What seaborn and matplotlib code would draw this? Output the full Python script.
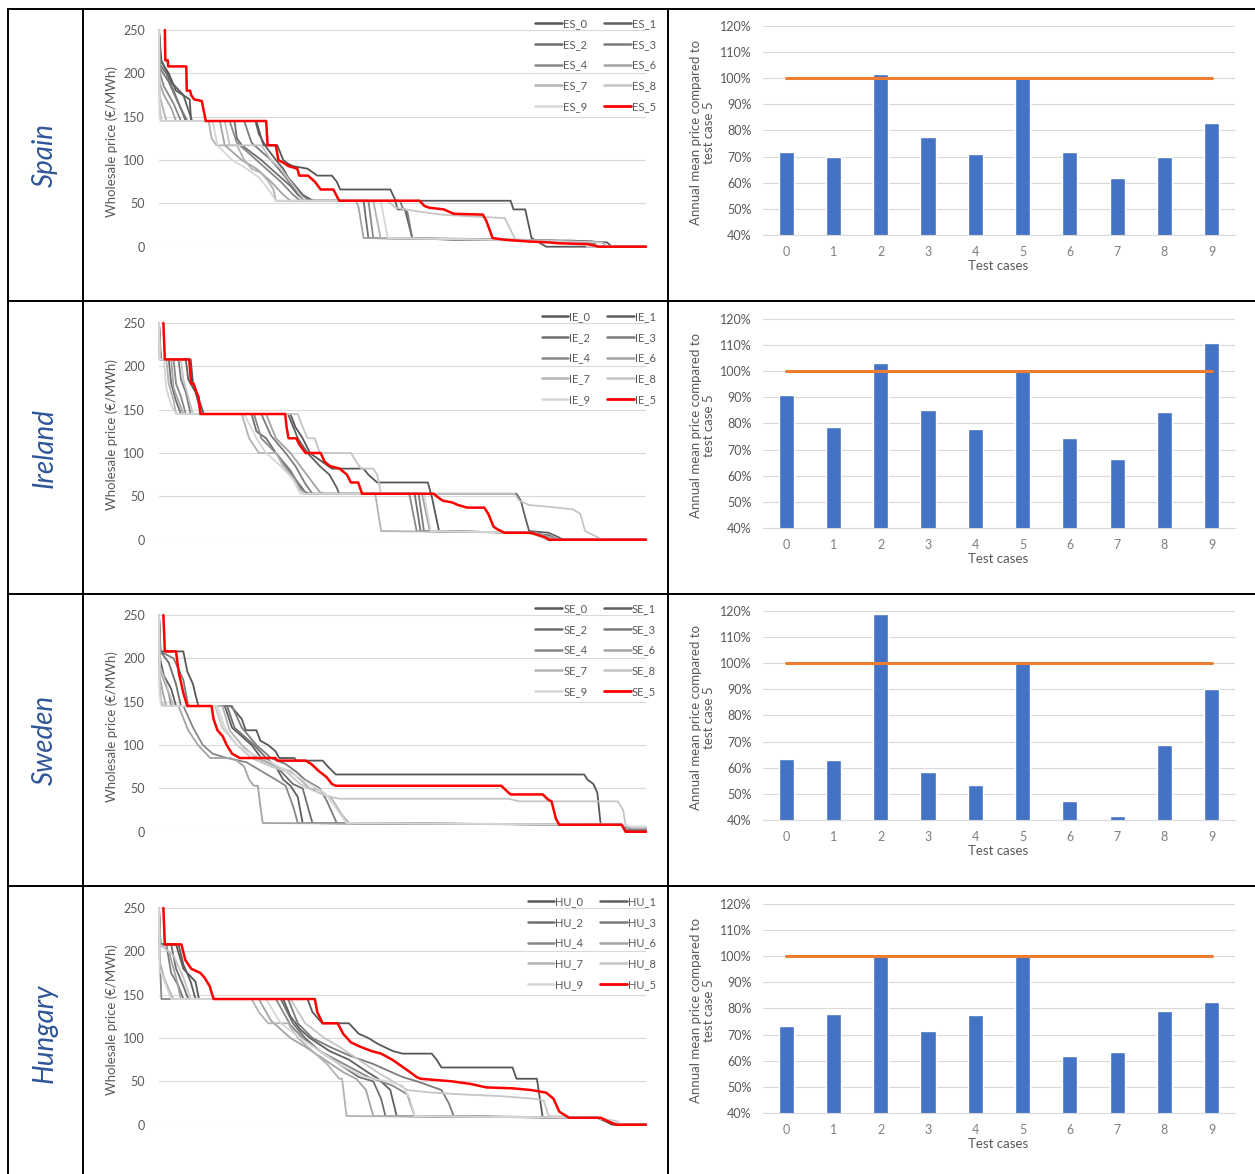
import matplotlib.pyplot as plt
import seaborn as sns
import pandas as pd
import numpy as np
from matplotlib.lines import Line2D
from matplotlib.ticker import FuncFormatter

# ---- price duration curves: (share of year in %, price in EUR/MWh) ----
ES_0 = [(0,250),(0.3,215),(2,200),(3.5,180),(6.3,170),(6.6,145),(20,145),(21,125),(21.5,117),(24.3,117),(25.5,100),(26.7,95),(27.5,93),(30.5,90),(32.5,82),(35.5,82),(36.5,75),(37.2,66),(47.5,66),(48.6,53),(72.2,53),(72.8,43),(75.2,43),(76.5,10),(78,5),(79.5,0),(100,0)]
ES_1 = [(0,250),(0.5,215),(2.5,190),(5,175),(6.8,145),(19.8,145),(20.5,130),(22,115),(24,100),(25.5,90),(26.5,80),(28,70),(29.5,60),(31,55),(31.7,53),(48.5,53),(49,43),(50.5,43),(52,10),(60,8),(85,7),(92,5),(93,0),(100,0)]
ES_2 = [(0,250),(0.2,210),(1.5,200),(3,180),(5.5,145),(15.5,145),(16,125),(17,117),(21,100),(24,85),(27,70),(28.5,60),(30,53),(42,53),(43,10),(70,8),(89,6),(90,0),(100,0)]
ES_3 = [(0,250),(0.3,205),(2,190),(4,165),(5.8,145),(17.5,145),(19,120),(23,100),(26,80),(28,65),(30.5,55),(31,53),(49.5,53),(50,45),(51,40),(52,10),(75,8),(91,5),(92,0),(100,0)]
ES_4 = [(0,250),(0.2,200),(1,185),(3,165),(4.5,145),(14.5,145),(16,120),(20,100),(22,90),(25,75),(27.5,60),(29,53),(43,53),(44,10),(70,8),(89,4),(90,0),(100,0)]
ES_6 = [(0,250),(0.1,190),(1,175),(2.5,160),(3.5,145),(12.5,145),(13.5,117),(17,100),(20,90),(23,75),(25.5,60),(27,53),(40.5,53),(41,45),(42,10),(70,8),(88,4),(89,0),(100,0)]
ES_7 = [(0,250),(0.1,175),(0.8,160),(1.5,145),(10.2,145),(10.8,125),(11.8,117),(16,117),(17.5,100),(19,90),(21,85),(22.5,75),(23.5,66),(24,53),(44,53),(45.5,10),(70,8),(88,3),(89,0),(100,0)]
ES_8 = [(0,250),(0.1,165),(0.5,145),(13.5,145),(14.5,117),(21,117),(23,100),(25,90),(27,75),(29,60),(30,53),(47,53),(48.5,45),(54,40),(58,37),(64,35),(71,33),(73.2,8),(91,5),(92,0),(100,0)]
ES_9 = [(0,250),(0.1,150),(0.3,145),(11,145),(12,117),(15,100),(18,90),(20.5,80),(22.5,66),(24,53),(45.5,53),(47,10),(70,8),(87,4),(88,0),(100,0)]
ES_5 = [(1.2,250),(1.3,215),(1.8,215),(1.9,208),(5.6,208),(5.7,180),(6.4,180),(6.6,175),(7.2,170),(8.8,168),(9.6,145),(22,145),(22.3,117),(24,117),(24.5,100),(25.5,97),(26.6,93),(28.4,90),(28.8,82),(30.6,82),(32,75),(33.2,66),(35.8,66),(37,53),(53.5,53),(54.5,47),(55.5,45),(58.5,43),(60.5,38),(66.5,37),(67.2,30),(68.5,10),(71,8),(76,6),(80,5),(82,4),(88,3),(90.3,0),(100,0)]

IE_0 = [(0,250),(0.3,208),(6.5,208),(7,180),(8,165),(9.2,145),(27,145),(28,130),(29.5,117),(31,100),(33.5,90),(35.5,82),(42,82),(43,75),(44.8,66),(55.2,66),(56,50),(57.5,10),(75,8),(80,5),(82,0),(100,0)]
IE_1 = [(0,250),(0.4,208),(5.5,208),(6,185),(7.5,170),(8.7,145),(26.5,145),(28.5,117),(30.5,100),(33,85),(35,75),(36.5,60),(37,53),(73.4,53),(74.3,45),(75,30),(76,10),(80,8),(82,3),(83,0),(100,0)]
IE_2 = [(0,250),(0.2,208),(2,208),(2.5,180),(3.5,160),(4.5,145),(19,145),(20,125),(22,117),(24,100),(26,85),(28,70),(30,55),(31,53),(52.5,53),(53.7,10),(77,8),(80,3),(81,0),(100,0)]
IE_3 = [(0,250),(0.3,208),(4,208),(4.5,185),(5.5,170),(6.5,145),(21,145),(23,120),(26,100),(28,85),(30,65),(31.5,53),(53.3,53),(54.4,10),(77,8),(81,2),(82,0),(100,0)]
IE_4 = [(0,250),(0.2,208),(3,208),(3.5,180),(4.5,165),(5.5,145),(19.5,145),(21,117),(24,100),(27,80),(29,60),(30,53),(51.4,53),(52.9,10),(76,8),(80,2),(81,0),(100,0)]
IE_6 = [(0,250),(0.2,208),(2.5,208),(3,175),(4,160),(5,145),(22,145),(24,117),(27,100),(29,85),(31,70),(33,55),(34,53),(54,53),(55.6,10),(77,8),(81,2),(82,0),(100,0)]
IE_7 = [(0,250),(0.1,208),(1.5,208),(2,180),(3,160),(3.5,145),(17,145),(18.5,117),(20.5,100),(24,100),(25.5,85),(27,75),(28.5,60),(30,53),(44.4,53),(45.6,10),(76,8),(80,0),(100,0)]
IE_8 = [(0,250),(0.2,208),(4.5,208),(5,185),(6,165),(7,145),(28.5,145),(29.5,130),(30.5,117),(32,117),(33,100),(39.4,100),(40.5,90),(41.5,82),(44,82),(44.8,75),(45.6,53),(73,53),(74,45),(76,40),(80,38),(85,35),(86.5,30),(87.5,10),(90,3),(91,0),(100,0)]
IE_9 = [(0,250),(0.1,208),(1,208),(1.5,175),(2.5,155),(3.5,145),(17.5,145),(20,117),(22,100),(25,85),(27.5,70),(29,53),(54.4,53),(55.8,10),(76,8),(79,3),(80,0),(100,0)]
IE_5 = [(0.9,250),(1.2,208),(6.2,208),(6.6,180),(7.1,180),(7.7,170),(8.1,165),(8.5,145),(25.9,145),(26.2,130),(26.6,117),(28.2,117),(28.8,110),(30.1,100),(33.2,100),(34,90),(35.1,85),(37.1,82),(38.6,75),(39.4,66),(40.9,66),(41.7,53),(56.4,53),(57.5,48),(58.3,45),(60.2,43),(61.4,40),(63.3,37),(66.8,37),(67.6,30),(68.7,15),(69.5,12),(71,8),(76.4,8),(77.5,6),(79.2,3),(80,0),(100,0)]

SE_0 = [(0,250),(0.3,208),(5,208),(5.8,185),(7,170),(7.4,160),(8.1,145),(14.7,145),(15.5,140),(17,130),(17.8,117),(20,117),(20.8,105),(22.4,100),(23.9,93),(24.7,85),(27.8,85),(28.2,82),(33.6,82),(34.7,75),(36.3,66),(87.3,66),(88,60),(89.2,55),(90,45),(90.7,8),(95,8),(97,4),(100,4)]
SE_1 = [(0,250),(0.2,200),(1,180),(2.5,165),(3.5,145),(13.5,145),(15,120),(19,100),(21,85),(24,75),(25.5,60),(27,53),(28.5,40),(29.5,10),(95,8),(96,0),(100,0)]
SE_2 = [(0,250),(0.3,208),(2,195),(3.5,170),(4.5,145),(14,145),(15.5,120),(19.5,100),(22,85),(25,70),(27.5,55),(29.5,50),(30.5,30),(31.5,10),(95,8),(96,2),(100,2)]
SE_3 = [(0,250),(0.2,208),(3,200),(5,175),(6,145),(15,145),(17,120),(20,100),(23,85),(26,78),(28,70),(30,60),(33,50),(34.5,35),(36.5,10),(95,8),(97,3),(100,3)]
SE_4 = [(0,250),(0.1,190),(1,175),(2,160),(2.5,145),(5,145),(7,120),(9,100),(11,90),(14,85),(18,80),(21,70),(24,60),(26,53),(27.5,30),(28.5,10),(95,8),(97,5),(100,5)]
SE_6 = [(0,250),(0.1,180),(0.8,160),(1.5,145),(4,145),(6,117),(8,100),(10.5,85),(14.7,85),(16,82),(17.5,75),(18.5,60),(19.5,53),(20.3,53),(20.8,30),(21.3,10),(95,8),(97,4),(100,4)]
SE_7 = [(0,250),(0.1,170),(0.5,150),(1,145),(13,145),(14.5,117),(17,100),(20,85),(24,75),(27,70),(29,60),(31,50),(33,48),(33.5,45),(35.5,38),(37.5,20),(39,10),(95,8),(97,5),(100,5)]
SE_8 = [(0,250),(0.2,190),(1.5,170),(3,145),(11.5,145),(13,120),(16,100),(19,85),(23,75),(26,70),(29,55),(31.5,48),(34,42),(37,38),(71.8,38),(74,35),(94.2,35),(95.3,25),(95.8,8),(97,5),(100,5)]
SE_9 = [(0,250),(0.1,160),(0.5,145),(12,145),(13.5,120),(16,100),(19,90),(23,80),(28,65),(31,55),(34,45),(36,30),(38.5,10),(95,8),(97,6),(100,6)]
SE_5 = [(0.9,250),(1.2,208),(3.5,208),(3.9,190),(4.2,180),(4.6,170),(5,160),(5.8,145),(10.8,145),(11.2,130),(12,117),(13.1,110),(13.9,100),(15,90),(16.6,85),(23.9,85),(24.3,82),(30.1,82),(31.3,78),(32.8,70),(34.4,63),(35.5,55),(36.3,53),(70.3,53),(71.4,47),(72.2,43),(78.8,43),(79.9,37),(80.6,35),(81.5,15),(82.2,8),(95,8),(95.8,0),(100,0)]

HU_0 = [(0,250),(0.3,208),(3.5,208),(5,180),(7.5,165),(8.2,145),(30.5,145),(31.5,130),(33.5,117),(39,117),(41,105),(43,100),(45,93),(48,85),(50,82),(56,82),(57,75),(58,66),(72.6,66),(73.4,53),(77.6,53),(78.8,8),(90,8),(92,3),(93,0),(100,0)]
HU_1 = [(0,250),(0.3,208),(4,208),(5,185),(6.5,165),(7.5,145),(25.5,145),(27,125),(29,110),(31,100),(35,85),(39,75),(43,60),(45,53),(47.5,40),(48.8,10),(90,8),(93,2),(94,0),(100,0)]
HU_2 = [(0,250),(0.2,208),(2.5,208),(3.5,180),(5,160),(6,145),(25,145),(27.5,117),(30,100),(33,85),(37,70),(41,55),(44,50),(45.6,30),(46.5,10),(90,8),(93,3),(94,0),(100,0)]
HU_3 = [(0,250),(0.1,208),(1.5,208),(2.5,175),(4,160),(5,145),(26.5,145),(28.5,117),(31.5,100),(35,90),(39,80),(44,70),(50,55),(53,50),(58,40),(59.5,25),(60.5,10),(90,8),(93,3),(94,0),(100,0)]
HU_4 = [(0,250),(0.1,200),(0.5,145),(24,145),(27,115),(29.5,100),(33,85),(38,70),(43,55),(48,45),(51,35),(52.5,10),(90,8),(93,4),(94,0),(100,0)]
HU_6 = [(0,250),(0.2,208),(2,200),(3.5,170),(4.5,145),(20.5,145),(23,120),(27,100),(30,90),(34,75),(38,60),(40.5,53),(42.5,40),(44,10),(90,8),(94,2),(95,0),(100,0)]
HU_7 = [(0,250),(0.1,190),(1,170),(2.5,150),(3,145),(19,145),(20.5,130),(22.4,117),(26.5,117),(28.5,100),(30.5,90),(32.5,80),(34.5,70),(37,53),(37.6,53),(38.5,10),(90,8),(94,3),(95,0),(100,0)]
HU_8 = [(0,250),(0.2,208),(3,195),(5,170),(6.5,145),(27,145),(30,117),(34,100),(37,90),(41,75),(45,60),(48,50),(51,40),(56,37),(62,35),(70,33),(77,30),(79,28),(80,10),(90,8),(94,4),(95,0),(100,0)]
HU_9 = [(0,250),(0.1,180),(1.5,160),(2.5,145),(22,145),(25,117),(29,100),(33,85),(37,70),(42,55),(47,50),(50,45),(51.5,30),(52.5,10),(90,8),(94,3),(95,0),(100,0)]
HU_5 = [(0.9,250),(1.2,208),(4.6,208),(5.4,190),(6.6,180),(8.5,175),(9.3,170),(10.4,160),(11.2,145),(32,145),(32.5,130),(33.6,117),(36.7,117),(37.8,105),(39.4,95),(41.3,90),(43.6,85),(45.6,82),(47.9,75),(50.2,66),(51.7,60),(52.9,55),(53.7,53),(60.2,50),(64,47),(67.2,43),(72.6,42),(76.4,40),(79.5,37),(81,30),(82.2,15),(84.2,8),(90.7,8),(91.8,5),(93.8,0),(100,0)]

# ---- annual mean price relative to test case 5 (%) ----
CASES = [0, 1, 2, 3, 4, 5, 6, 7, 8, 9]
ES_BARS = [71.8, 69.8, 101.5, 77.6, 71.0, 100.0, 71.8, 61.7, 70.0, 82.8]
IE_BARS = [90.8, 78.5, 103.0, 85.1, 77.8, 100.0, 74.3, 66.5, 84.2, 110.9]
SE_BARS = [63.3, 63.0, 118.8, 58.4, 53.3, 100.0, 47.3, 41.5, 68.6, 90.0]
HU_BARS = [73.1, 77.8, 100.0, 71.2, 77.4, 100.0, 61.8, 63.3, 79.0, 82.6]
REF_LINE = [100, 100, 100, 100, 100, 100, 100, 100, 100, 100]

COUNTRIES = ['Spain', 'Ireland', 'Sweden', 'Hungary']
PREFIXES = ['ES', 'IE', 'SE', 'HU']
CURVES = {
    'ES': [ES_0, ES_1, ES_2, ES_3, ES_4, ES_5, ES_6, ES_7, ES_8, ES_9],
    'IE': [IE_0, IE_1, IE_2, IE_3, IE_4, IE_5, IE_6, IE_7, IE_8, IE_9],
    'SE': [SE_0, SE_1, SE_2, SE_3, SE_4, SE_5, SE_6, SE_7, SE_8, SE_9],
    'HU': [HU_0, HU_1, HU_2, HU_3, HU_4, HU_5, HU_6, HU_7, HU_8, HU_9],
}
BARS = {'ES': ES_BARS, 'IE': IE_BARS, 'SE': SE_BARS, 'HU': HU_BARS}

# case number -> line colour (Excel greys, case 5 in red)
CASE_COLORS = {0: '#575757', 1: '#5f5f5f', 2: '#6f6f6f', 3: '#7b7b7b', 4: '#888888',
               6: '#a3a3a3', 7: '#b3b3b3', 8: '#c5c5c5', 9: '#d6d6d6', 5: '#ff0000'}
DRAW_ORDER = [0, 1, 2, 3, 4, 6, 7, 8, 9, 5]
LEGEND_ORDER = [0, 2, 4, 7, 9, 1, 3, 6, 8, 5]  # column-major for 2 legend columns

W, H = 1255, 1174
ROW_OFF = [0, 293, 585, 878]
TXT = '#595959'
GRID = '#d9d9d9'

sns.set_style('white')
plt.rcParams['font.family'] = ['Lato', 'DejaVu Sans']


def rect(x0, y0, x1, y1):
    return [x0 / W, 1 - y1 / H, (x1 - x0) / W, (y1 - y0) / H]


fig = plt.figure(figsize=(W / 100, H / 100), dpi=100)

for r, (country, pre) in enumerate(zip(COUNTRIES, PREFIXES)):
    off = ROW_OFF[r]

    # long table for seaborn
    rows = []
    for case in DRAW_ORDER:
        for x, p in CURVES[pre][case]:
            rows.append({'x': x, 'price': p, 'case': f'{pre}_{case}'})
    df = pd.DataFrame(rows)
    pal = {f'{pre}_{c}': CASE_COLORS[c] for c in DRAW_ORDER}
    grey_names = [f'{pre}_{c}' for c in DRAW_ORDER if c != 5]

    ax = fig.add_axes(rect(159, 30 + off, 646, 246.7 + off))
    sns.lineplot(data=df[df['case'] != f'{pre}_5'], x='x', y='price', hue='case',
                 hue_order=grey_names, palette=pal, sort=False, estimator=None,
                 linewidth=1.3, legend=False, ax=ax)
    sns.lineplot(data=df[df['case'] == f'{pre}_5'], x='x', y='price',
                 color='#ff0000', sort=False, estimator=None, linewidth=1.8, ax=ax)
    for ln in ax.lines:
        ln.set_clip_on(False)
    ax.set_xlim(0, 100)
    ax.set_ylim(0, 250)
    ax.set_xticks([])
    ax.set_yticks(range(0, 251, 50))
    ax.grid(axis='y', color=GRID, linewidth=0.8)
    ax.set_axisbelow(True)
    sns.despine(ax=ax, left=True, bottom=True)
    ax.tick_params(axis='y', length=0, pad=10, labelsize=9, labelcolor=TXT)
    ax.set_xlabel('')
    ax.set_ylabel('Wholesale price (€/MWh)', fontsize=9.5, color=TXT)
    ax.yaxis.set_label_coords(-0.085, 0.483)

    handles = [Line2D([], [], color=CASE_COLORS[c], lw=2.0 if c == 5 else 1.8) for c in LEGEND_ORDER]
    labels = [f'{pre}_{c}' for c in LEGEND_ORDER]
    fig.legend(handles, labels, loc='upper right', ncol=2, frameon=False,
               bbox_to_anchor=(656 / W, 1 - (18 + off) / H), bbox_transform=fig.transFigure,
               fontsize=8, handlelength=2.4, handletextpad=0.1, columnspacing=1.5,
               labelspacing=0.88, borderpad=0, borderaxespad=0, labelcolor=TXT)

    # bar chart
    bax = fig.add_axes(rect(762.5, 25.7 + off, 1235.3, 235 + off))
    sns.barplot(x=CASES, y=BARS[pre], color='#4472C4', saturation=1, width=0.32, ax=bax)
    sns.lineplot(x=CASES, y=REF_LINE, color='#ED7D31', linewidth=2.2, ax=bax)
    bax.set_xlim(-0.5, 9.5)
    bax.set_ylim(40, 120)
    bax.set_yticks(range(40, 121, 10))
    bax.yaxis.set_major_formatter(FuncFormatter(lambda v, _: f'{v:.0f}%'))
    bax.grid(axis='y', color=GRID, linewidth=0.8)
    bax.set_axisbelow(True)
    sns.despine(ax=bax, left=True)
    bax.spines['bottom'].set_color(GRID)
    bax.set_xticks(np.arange(-0.5, 10, 1), minor=True)
    bax.tick_params(axis='x', which='minor', length=4, color=GRID, direction='out')
    bax.tick_params(axis='x', which='major', length=0, pad=8, labelsize=9, labelcolor='#7f7f7f')
    bax.tick_params(axis='y', length=0, pad=8, labelsize=9, labelcolor=TXT)
    bax.set_xlabel('Test cases', fontsize=9.5, color=TXT)
    bax.xaxis.set_label_coords(0.498, -0.12)
    bax.set_ylabel('Annual mean price compared to\ntest case 5', fontsize=9.5, color=TXT,
                   linespacing=1.1)
    bax.yaxis.set_label_coords(-0.1, 0.49)

    # country name in the left column
    fig.text(45 / W, 1 - (155 + off) / H, country, rotation=90, fontsize=20,
             style='italic', color='#2F5597', ha='center', va='center')

# table rules
for y in [9, 301, 594, 886]:
    fig.add_artist(Line2D([8 / W, 1.0], [1 - y / H, 1 - y / H], color='black',
                          lw=1.4, transform=fig.transFigure))
for x in [8, 83, 668]:
    fig.add_artist(Line2D([x / W, x / W], [1 - 9 / H, 0], color='black',
                          lw=1.4, transform=fig.transFigure))

fig.savefig('out.png', dpi=100)
